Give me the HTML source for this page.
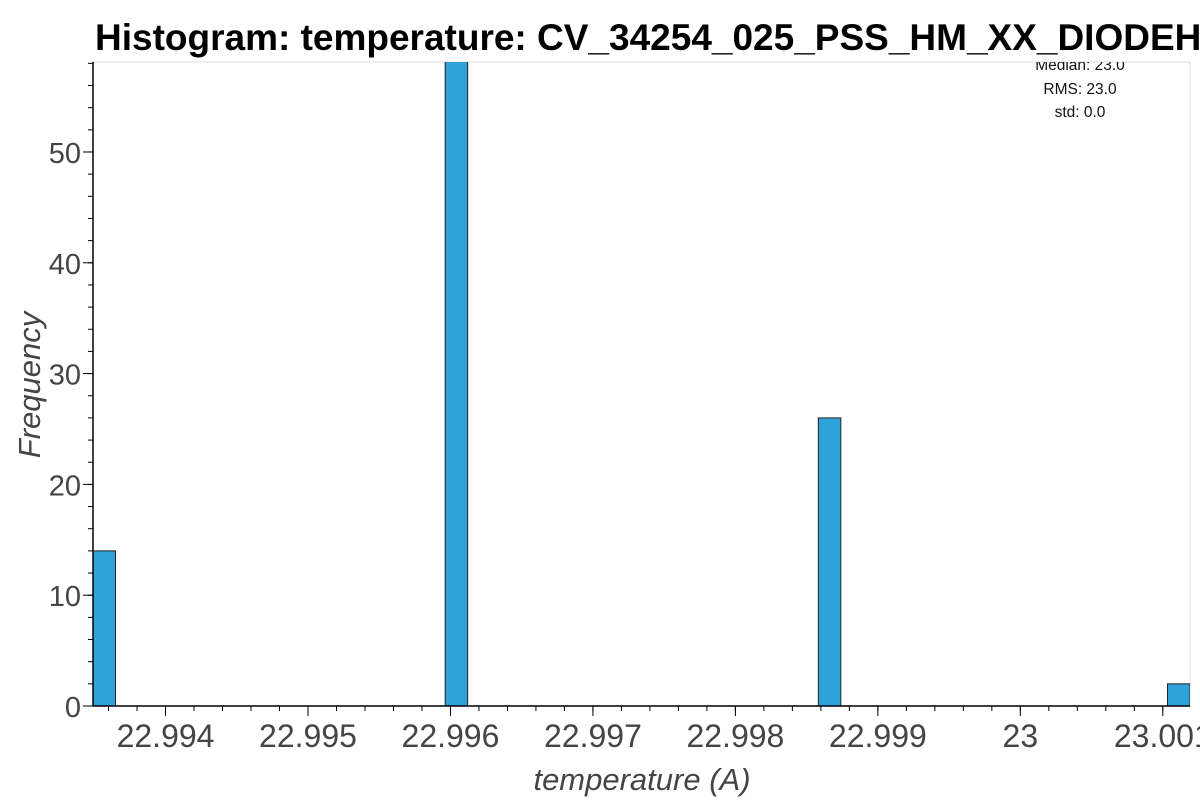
<!DOCTYPE html>
<html><head><meta charset="utf-8"><style>
body{margin:0;background:#fff;width:1200px;height:800px;overflow:hidden;font-family:"Liberation Sans",Arial,sans-serif}
</style></head><body>
<svg width="1200" height="800">
<text x="95" y="50" font-size="37" font-weight="bold" fill="#000">Histogram: temperature: CV_34254_025_PSS_HM_XX_DIODEHV</text>
<rect x="93" y="62" width="1097" height="644" fill="#fff" stroke="#ddd"/>
<g id="bars"></g>
<g id="axes"></g>
<g font-size="15.5" fill="#111" text-anchor="middle">
<clipPath id="pc"><rect x="93" y="62" width="1097" height="644"/></clipPath>
<g clip-path="url(#pc)">
<text x="1080" y="70">Median: 23.0</text>
<text x="1080" y="94">RMS: 23.0</text>
<text x="1080" y="117">std: 0.0</text>
</g></g>
<text x="642" y="790" font-size="31" font-style="italic" fill="#444" text-anchor="middle">temperature (A)</text>
<text transform="translate(40,385) rotate(-90)" font-size="31" font-style="italic" fill="#444" text-anchor="middle">Frequency</text>
</svg>
<script>
const binStarts=[22.993491,22.995963,22.998582,23.001033];
const binWidth=0.000158;
const counts=[14,60,26,2];
const xTicks=[22.994,22.995,22.996,22.997,22.998,22.999,23.000,23.001];
const xTickLabels=["22.994","22.995","22.996","22.997","22.998","22.999","23","23.001"];
const yTicks=[0,10,20,30,40,50];
const NS="http://www.w3.org/2000/svg";
const L=93,R=1190,T=62,B=706;
const x0=22.993491,x1=23.0011909,yMax=58.12;
function xs(v){return L+(v-x0)/(x1-x0)*(R-L);}
function ys(v){return B-v/yMax*(B-T);}
function mk(t,a,p){const e=document.createElementNS(NS,t);for(const k in a)e.setAttribute(k,a[k]);p.appendChild(e);return e;}
const bars=document.getElementById('bars');
const clip=mk('g',{'clip-path':'url(#pc)'},bars);
counts.forEach((c,i)=>{
 const xa=xs(binStarts[i]),xb=xs(binStarts[i]+binWidth),y=ys(c);
 const r=mk('rect',{x:xa,y:y,width:xb-xa,height:B-y,fill:'#2ea2d9',stroke:'#222','stroke-width':1},clip);
 
 
});
const ax=document.getElementById('axes');
mk('line',{x1:L,y1:B,x2:R,y2:B,stroke:'#000','stroke-width':1.5},ax);
mk('line',{x1:L,y1:T,x2:L,y2:B,stroke:'#000','stroke-width':1.5},ax);
xTicks.forEach((v,i)=>{
 const x=xs(v);
 mk('line',{x1:x,y1:B,x2:x,y2:B+10,stroke:'#000'},ax);
 const t=mk('text',{x:x,y:B+41,'font-size':32,fill:'#444','text-anchor':'middle'},ax);
 t.textContent=xTickLabels[i];
 
 
});
for(let k=-5;k<=40;k++){const v=22.994+k*0.0002;const x=xs(v);if(x>=L&&x<=R)mk('line',{x1:x,y1:B,x2:x,y2:B+5,stroke:'#000'},ax);}
yTicks.forEach(v=>{
 const y=ys(v);
 mk('line',{x1:L-10,y1:y,x2:L,y2:y,stroke:'#000'},ax);
 const t=mk('text',{x:L-12,y:y+11,'font-size':29,fill:'#444','text-anchor':'end'},ax);
 t.textContent=v;
 
 
});
for(let v=0;v<=58;v+=2){const y=ys(v);mk('line',{x1:L-5,y1:y,x2:L,y2:y,stroke:'#000'},ax);}
</script>
</body></html>
